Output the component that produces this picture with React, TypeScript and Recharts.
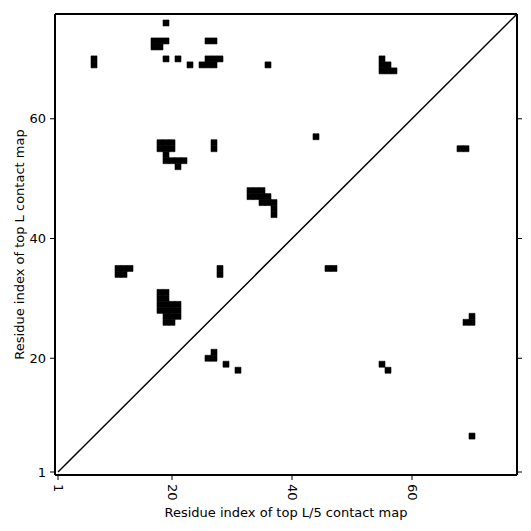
import { ScatterChart, XAxis, YAxis, ReferenceArea, ReferenceLine } from "recharts";

// residue index pairs (column = top L/5 map, row = top L map)
const cellX = [
  19,
  17, 18, 19, 26, 27,
  17, 18,
  7, 19, 21, 26, 27, 28, 55,
  7, 23, 25, 26, 27, 36, 55, 56,
  55, 56, 57,
  44,
  18, 19, 20, 27,
  18, 19, 20, 27, 68, 69,
  19,
  19, 20, 21, 22,
  21,
  33, 34, 35,
  33, 34, 35, 36,
  35, 36, 37,
  37,
  37,
  11, 12, 13, 28, 46, 47,
  11, 12, 28,
  18, 19,
  18, 19,
  18, 19, 20, 21,
  18, 19, 20, 21,
  19, 20, 21, 70,
  19, 20, 69, 70,
  27,
  26, 27,
  29, 55,
  31, 56,
  70,
];
const cellY = [
  76,
  73, 73, 73, 73, 73,
  72, 72,
  70, 70, 70, 70, 70, 70, 70,
  69, 69, 69, 69, 69, 69, 69, 69,
  68, 68, 68,
  57,
  56, 56, 56, 56,
  55, 55, 55, 55, 55, 55,
  54,
  53, 53, 53, 53,
  52,
  48, 48, 48,
  47, 47, 47, 47,
  46, 46, 46,
  45,
  44,
  35, 35, 35, 35, 35, 35,
  34, 34, 34,
  31, 31,
  30, 30,
  29, 29, 29, 29,
  28, 28, 28, 28,
  27, 27, 27, 27,
  26, 26, 26, 26,
  21,
  20, 20,
  19, 19,
  18, 18,
  7,
];
const L = 77;
const ticks = [1, 20, 40, 60];

const font = "DejaVu Sans, sans-serif";

function XTick(props: any) {
  const { x, y, payload } = props;
  return (
    <text
      x={x}
      y={y}
      transform={`rotate(90, ${x}, ${y})`}
      textAnchor="start"
      dominantBaseline="central"
      fontSize={13}
      fontFamily={font}
      fill="#000"
    >
      {payload.value}
    </text>
  );
}

export default function App() {
  const cells = cellX.map((cx, i) => ({ x: cx, y: cellY[i] }));
  const dom: [number, number] = [0.5, L + 0.5];
  return (
    <div style={{ position: "absolute", left: 0, top: 0, background: "#fff" }}>
      <ScatterChart
        width={531}
        height={531}
        margin={{ top: 9, right: 9, bottom: 0, left: 0 }}
      >
        <XAxis
          xAxisId="b"
          type="number"
          dataKey="x"
          domain={dom}
          ticks={ticks}
          allowDataOverflow
          height={56}
          tick={<XTick />}
          tickSize={5}
          tickMargin={4}
          stroke="#000"
          axisLine={{ stroke: "#000", strokeWidth: 2 }}
          label={{
            value: "Residue index of top L/5 contact map",
            position: "insideBottom",
            offset: 14,
            fontSize: 13,
            fontFamily: font,
            fill: "#000",
          }}
        />
        <XAxis
          xAxisId="t"
          orientation="top"
          type="number"
          domain={dom}
          ticks={ticks}
          allowDataOverflow
          height={5}
          tickFormatter={() => ""}
          tickSize={5}
          tickMargin={0}
          stroke="#000"
          axisLine={{ stroke: "#000", strokeWidth: 2 }}
        />
        <YAxis
          yAxisId="l"
          type="number"
          dataKey="y"
          domain={dom}
          ticks={ticks}
          allowDataOverflow
          width={55}
          tickSize={5}
          tickMargin={4}
          stroke="#000"
          axisLine={{ stroke: "#000", strokeWidth: 2 }}
          tick={{ fontSize: 13, fontFamily: font, fill: "#000" }}
          label={{
            value: "Residue index of top L contact map",
            angle: -90,
            position: "insideLeft",
            offset: 19,
            style: { textAnchor: "middle" },
            fontSize: 13,
            fontFamily: font,
            fill: "#000",
          }}
        />
        <YAxis
          yAxisId="r"
          orientation="right"
          type="number"
          domain={dom}
          ticks={ticks}
          allowDataOverflow
          width={5}
          tickFormatter={() => ""}
          tickSize={5}
          tickMargin={0}
          stroke="#000"
          axisLine={{ stroke: "#000", strokeWidth: 2 }}
        />
        {cells.map((c, i) => (
          <ReferenceArea
            key={i}
            xAxisId="b"
            yAxisId="l"
            x1={c.x - 0.5}
            x2={c.x + 0.5}
            y1={c.y - 0.5}
            y2={c.y + 0.5}
            fill="#000"
            fillOpacity={1}
            stroke="#000"
            strokeWidth={0.6}
            ifOverflow="visible"
          />
        ))}
        <ReferenceLine
          xAxisId="b"
          yAxisId="l"
          segment={[
            { x: 1, y: 1 },
            { x: L + 0.5, y: L + 0.5 },
          ]}
          stroke="#000"
          strokeWidth={1.5}
          ifOverflow="visible"
        />
      </ScatterChart>
    </div>
  );
}
